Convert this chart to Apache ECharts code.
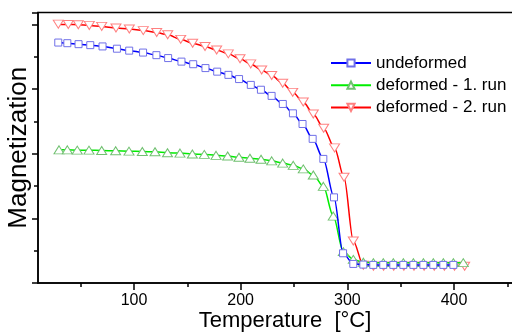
<!DOCTYPE html>
<html>
<head>
<meta charset="utf-8">
<script src="https://cdn.jsdelivr.net/npm/echarts@6/dist/echarts.min.js"></script>
<style>html,body{margin:0;padding:0;background:#fff}#c{width:512px;height:333px}</style>
</head>
<body>
<div id="c"></div>
<script>
// Temperature [°C] (x) and magnetization (arbitrary units)
var undeformedT = [29, 37.5, 48, 59, 70.5, 84, 95.5, 108.5, 121, 132, 144.5, 155.5, 167, 178, 188.5, 198.5, 209.5, 219, 229, 239.5, 249, 258, 267.5, 277.5, 287.5, 296, 305.6, 315, 324.3, 333.7, 343.1, 352.5, 361.9, 371.3, 380.6, 390, 399.4];
var undeformedM = [7.44, 7.42, 7.39, 7.36, 7.32, 7.25, 7.19, 7.13, 7.05, 6.96, 6.85, 6.77, 6.65, 6.54, 6.44, 6.31, 6.13, 5.98, 5.79, 5.54, 5.25, 4.92, 4.46, 3.84, 2.65, 0.92, 0.59, 0.57, 0.56, 0.56, 0.56, 0.56, 0.56, 0.56, 0.56, 0.56, 0.56];

var run1T = [29.7, 37.5, 46.8, 57.8, 69.7, 82.8, 95.3, 107.8, 119.7, 131.4, 143.1, 154.7, 165.9, 176.9, 187.8, 198.4, 208.7, 219.1, 229.1, 239.4, 249.3, 258.7, 268.1, 277.5, 286.8, 296.2, 305.6, 315, 324.4, 333.7, 343.1, 352.5, 361.9, 371.3, 380.6, 390, 399.4, 408.7];
var run1M = [4.12, 4.12, 4.11, 4.11, 4.10, 4.09, 4.08, 4.07, 4.06, 4.03, 4.02, 3.99, 3.98, 3.95, 3.93, 3.89, 3.86, 3.83, 3.78, 3.71, 3.64, 3.53, 3.34, 2.99, 2.07, 0.97, 0.73, 0.64, 0.63, 0.63, 0.63, 0.63, 0.63, 0.63, 0.63, 0.63, 0.63, 0.63];

var run2T = [29, 38.4, 47.8, 58.1, 69.7, 83.1, 95.6, 108.7, 121.3, 131.6, 143.8, 155, 166.6, 177.5, 188.4, 199.4, 209.4, 219.7, 229.1, 239.4, 248.8, 258.7, 268.1, 277.8, 288, 296.9, 305.6, 315, 324.5, 334, 343.5, 353, 362.5, 372, 381.5, 391, 400.5, 410];
var run2M = [8.01, 8.0, 7.99, 7.97, 7.94, 7.89, 7.86, 7.81, 7.75, 7.68, 7.54, 7.42, 7.32, 7.21, 7.09, 6.94, 6.78, 6.59, 6.42, 6.18, 5.90, 5.60, 5.23, 4.79, 4.18, 3.27, 1.30, 0.55, 0.52, 0.52, 0.52, 0.52, 0.52, 0.52, 0.52, 0.52, 0.52, 0.52];

var seriesNames = ['undeformed', 'deformed - 1. run', 'deformed - 2. run'];
var xMajorTicks = [100, 200, 300, 400];
var xMinorTicks = [50, 150, 250, 350, 450];

function zip(a, b) { return a.map(function (v, i) { return [v, b[i]]; }); }

var FONT = 'Liberation Sans, Arial, sans-serif';
var chart = echarts.init(document.getElementById('c'), null, {renderer: 'canvas'});

var baseX = {
  type: 'value', min: 10, max: 460, gridIndex: 0,
  splitLine: {show: false}
};

chart.setOption({
  animation: false,
  backgroundColor: '#fff',
  textStyle: {fontFamily: FONT},
  grid: {left: 38, top: 12.5, bottom: 50, right: -6, show: true, borderColor: '#000', borderWidth: 1.5,
         containLabel: false, outerBoundsMode: 'none'},
  legend: {
    orient: 'vertical', left: 330, top: 54.5, padding: 0,
    itemWidth: 40, itemHeight: 9, itemGap: 5.2,
    textStyle: {fontFamily: FONT, fontSize: 17, color: '#000', lineHeight: 17},
    data: seriesNames
  },
  xAxis: [
    Object.assign({}, baseX, {
      position: 'bottom',
      name: 'Temperature  [°C]', nameLocation: 'middle', nameGap: 27, nameMoveOverlap: false,
      nameTextStyle: {fontFamily: FONT, fontSize: 22, color: '#000', padding: [0, 0, 0, 14]},
      axisLine: {show: true, lineStyle: {color: '#000', width: 1.5}},
      axisTick: {show: true, inside: false, length: 7, customValues: xMajorTicks, lineStyle: {color: '#000', width: 1.5}},
      axisLabel: {show: true, customValues: xMajorTicks, margin: 10, fontFamily: FONT, fontSize: 16, color: '#000'}
    }),
    Object.assign({}, baseX, {
      position: 'bottom',
      axisLine: {show: false},
      axisTick: {show: true, inside: false, length: 4, customValues: xMinorTicks, lineStyle: {color: '#000', width: 1.5}},
      axisLabel: {show: false}
    })
  ],
  yAxis: {
    type: 'value', min: 0, max: 8.37, interval: 2,
    name: 'Magnetization', nameLocation: 'middle', nameGap: 6, nameMoveOverlap: false,
    nameTextStyle: {fontFamily: FONT, fontSize: 26, color: '#000'},
    axisLine: {show: true, lineStyle: {color: '#000', width: 1.5}},
    axisTick: {show: true, inside: false, length: 6, lineStyle: {color: '#000', width: 1.5}},
    minorTick: {show: true, splitNumber: 2, length: 4, lineStyle: {color: '#000', width: 1.5}},
    axisLabel: {show: false},
    splitLine: {show: false}
  },
  series: [
    {
      name: seriesNames[0], type: 'line', xAxisIndex: 0, z: 4,
      data: zip(undeformedT, undeformedM),
      smooth: 0.3, smoothMonotone: 'x',
      symbol: 'rect', symbolSize: 7,
      lineStyle: {color: '#0000ff', width: 1.5},
      itemStyle: {color: '#ffffff', borderColor: '#7070e8', borderWidth: 1}
    },
    {
      name: seriesNames[1], type: 'line', xAxisIndex: 0, z: 3,
      data: zip(run1T, run1M),
      smooth: 0.3, smoothMonotone: 'x',
      symbol: 'triangle', symbolSize: [10, 8],
      lineStyle: {color: '#00ee00', width: 1.5},
      itemStyle: {color: '#ffffff', borderColor: '#70c070', borderWidth: 1}
    },
    {
      name: seriesNames[2], type: 'line', xAxisIndex: 0, z: 2,
      data: zip(run2T, run2M),
      smooth: 0.3, smoothMonotone: 'x',
      symbol: 'triangle', symbolRotate: 180, symbolSize: [10, 8],
      lineStyle: {color: '#ff0000', width: 1.5},
      itemStyle: {color: '#ffffff', borderColor: '#ff8080', borderWidth: 1}
    }
  ]
});
</script>
</body>
</html>
